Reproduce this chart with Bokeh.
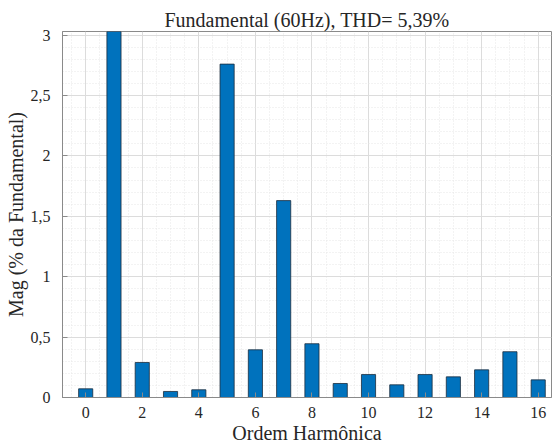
import numpy as np
from bokeh.plotting import figure
from bokeh.models import FixedTicker, CustomJSTickFormatter, Range1d, ColumnDataSource
from bokeh.embed import file_html
from bokeh.resources import INLINE

# ---- data ----
harmonic_order = list(range(17))
magnitude = [0.072, 100.0, 0.29, 0.05, 0.064, 2.76, 0.395, 1.63, 0.445,
             0.116, 0.19, 0.105, 0.19, 0.171, 0.229, 0.379, 0.146]
x_tick_values = [0, 2, 4, 6, 8, 10, 12, 14, 16]
y_tick_values = [0, 0.5, 1, 1.5, 2, 2.5, 3]
title_text = "Fundamental (60Hz), THD= 5,39%"
x_label = "Ordem Harmônica"
y_label = "Mag (% da Fundamental)"

FONT = "Liberation Serif"
TXT = "#262626"
AXC = "#8a8a8a"

src = ColumnDataSource(dict(h=harmonic_order, m=magnitude))

p = figure(width=554, height=447, output_backend="svg", toolbar_location=None,
           x_range=Range1d(-0.82, 16.47), y_range=Range1d(0, 3.03),
           min_border_left=62, min_border_right=3, min_border_top=31, min_border_bottom=50,
           background_fill_color="white", border_fill_color="white")

p.vbar(x="h", top="m", bottom=0, width=0.5, source=src,
       fill_color="#0072BD", line_color="#1c2c3c", line_width=0.8)

xt = FixedTicker(ticks=x_tick_values, minor_ticks=list(np.arange(-0.5, 17, 0.5)))
yt = FixedTicker(ticks=y_tick_values, minor_ticks=list(np.round(np.arange(0, 3.05, 0.1), 2)))
fmt = CustomJSTickFormatter(code="return tick.toString().replace('.', ',');")

p.xaxis.ticker = xt
p.yaxis.ticker = yt
p.yaxis.formatter = fmt
p.xaxis.formatter = fmt

for ax in (p.xaxis[0], p.yaxis[0]):
    ax.major_tick_in = 5
    ax.major_tick_out = 0
    ax.minor_tick_line_color = None
    ax.axis_line_color = AXC
    ax.major_tick_line_color = AXC
    ax.major_label_text_font = FONT
    ax.major_label_text_font_size = "16px"
    ax.major_label_text_color = TXT
    ax.axis_label_text_font = FONT
    ax.axis_label_text_font_size = "20px"
    ax.axis_label_text_font_style = "normal"
    ax.axis_label_text_color = TXT

p.xaxis.axis_label = x_label
p.yaxis.axis_label = y_label
p.xaxis.major_label_standoff = 5
p.xaxis.axis_label_standoff = 1
p.yaxis.major_label_standoff = 8
p.yaxis.axis_label_standoff = 1

p.xgrid.grid_line_color = "#dcdcdc"
p.ygrid.grid_line_color = "#dcdcdc"
p.xgrid.minor_grid_line_color = "#e6e6e6"
p.ygrid.minor_grid_line_color = "#e6e6e6"
p.xgrid.minor_grid_line_dash = "1 2"
p.ygrid.minor_grid_line_dash = "1 2"
p.outline_line_color = AXC
p.outline_line_width = 1

p.title.text = title_text
p.title.text_font = FONT
p.title.text_font_size = "20px"
p.title.text_font_style = "normal"
p.title.text_color = TXT
p.title.align = "center"
p.title.standoff = 2
p.title.offset = 0

open("out.html", "w").write(file_html(p, INLINE))
